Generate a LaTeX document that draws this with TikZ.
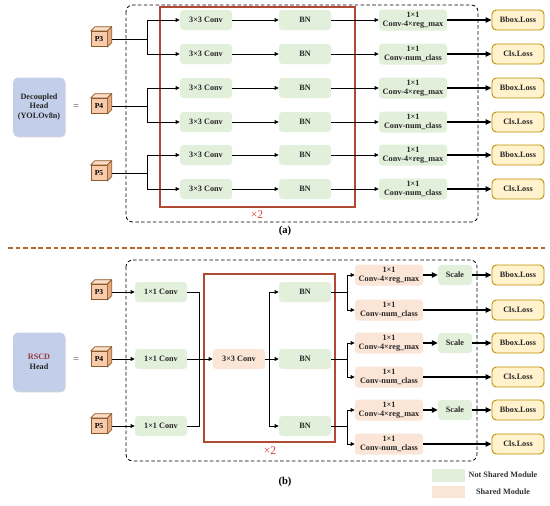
\documentclass[tikz,border=0pt]{standalone}
\usepackage{fontspec}
\setmainfont{Liberation Serif}
\usetikzlibrary{arrows.meta,shadows}

\definecolor{convgreen}{HTML}{E2EFDA}
\definecolor{sharedorange}{HTML}{FBE5D6}
\definecolor{lossfill}{HTML}{FFF2CC}
\definecolor{lossline}{HTML}{BF9000}
\definecolor{headblue}{HTML}{C3CFEA}
\definecolor{redframe}{HTML}{B04A35}
\definecolor{timesred}{HTML}{D9453C}
\definecolor{cubefill}{HTML}{F8CBAD}
\definecolor{cubetop}{HTML}{FBDCC6}
\definecolor{cubeside}{HTML}{E9A97E}
\definecolor{cubeline}{HTML}{8C5A2B}
\definecolor{sepline}{HTML}{B5652E}
\definecolor{rscdred}{HTML}{9B3A3A}

\tikzset{
    module/.style={rounded corners=1mm, minimum width=15.6mm, minimum height=6mm, inner sep=1pt,
        font=\fontsize{7}{7.5}\selectfont\bfseries, align=center, text=black!85},
    notshared/.style={module, fill=convgreen},
    shared/.style={module, fill=sharedorange},
    wide/.style={minimum width=20.4mm, minimum height=6.3mm},
    loss/.style={module, fill=lossfill, draw=lossline, line width=0.8pt, rounded corners=1.3mm},
    head/.style={fill=headblue, rounded corners=1.5mm, minimum width=15.6mm, minimum height=17.7mm,
        align=center, font=\fontsize{7}{8.5}\selectfont\bfseries, text=black!85,
        drop shadow={opacity=0.35, shadow xshift=0.6pt, shadow yshift=-0.8pt}},
    pfront/.style={draw=cubeline, fill=cubefill, line width=0.6pt, minimum width=4.8mm, minimum height=4.6mm,
        inner sep=0pt, font=\fontsize{6.5}{7}\selectfont\bfseries},
    arr/.style={-{Triangle[length=3.5pt,width=3.2pt]}, line width=0.6pt},
    thickarr/.style={-{Triangle[length=5pt,width=4.5pt]}, line width=1.5pt},
    outer/.style={dashed, dash pattern=on 3pt off 2pt, rounded corners=2mm, line width=0.7pt},
    redbox/.style={draw=redframe, line width=0.9pt},
    timestwo/.style={text=timesred, font=\fontsize{10}{10}\selectfont},
    caption/.style={font=\fontsize{9}{9}\selectfont\bfseries},
    legtext/.style={font=\fontsize{7}{7}\selectfont\bfseries, text=black!80}
}

% P3 / P4 / P5 feature cube
\newcommand{\pcube}[4]{%
    \node[pfront] (#1) at (#2,#3) {#4};
    \draw[cubeline, fill=cubetop, line width=0.6pt, line join=round] (#1.north west) -- ++(1.3mm,1.3mm)
        -- ([shift={(1.3mm,1.3mm)}]#1.north east) -- (#1.north east) -- cycle;
    \draw[cubeline, fill=cubeside, line width=0.6pt, line join=round] (#1.north east)
        -- ([shift={(1.3mm,1.3mm)}]#1.north east) -- ([shift={(1.3mm,1.3mm)}]#1.south east) -- (#1.south east) -- cycle;
}

\begin{document}
\begin{tikzpicture}[x=0.3mm, y=-0.3mm]
    \fill[white] (0,0) rectangle (550,505);
    \useasboundingbox (0,0) rectangle (550,505);

    % (a) Decoupled head
    \draw[outer] (126,5) rectangle (478,222);
    \draw[redbox] (160,7) rectangle (355,207);
    \node[timestwo] (xa) at (257,215) {×2};

    \node[head] (heada) at (39,107) {Decoupled\\Head\\(YOLOv8n)};
    \node[font=\fontsize{9}{9}\selectfont, text=black!70] (eqa) at (76,107) {=};
    \pcube{p3a}{99}{39}{P3}
    \pcube{p4a}{99}{106}{P4}
    \pcube{p5a}{99}{173}{P5}

    \node[notshared] (ca1) at (206,20) {3×3 Conv};
    \node[notshared] (ca2) at (206,54) {3×3 Conv};
    \node[notshared] (ca3) at (206,88) {3×3 Conv};
    \node[notshared] (ca4) at (206,122) {3×3 Conv};
    \node[notshared] (ca5) at (206,155) {3×3 Conv};
    \node[notshared] (ca6) at (206,189) {3×3 Conv};

    \node[notshared] (ba1) at (305,20) {BN};
    \node[notshared] (ba2) at (305,54) {BN};
    \node[notshared] (ba3) at (305,88) {BN};
    \node[notshared] (ba4) at (305,122) {BN};
    \node[notshared] (ba5) at (305,155) {BN};
    \node[notshared] (ba6) at (305,189) {BN};

    \node[notshared, wide] (da1) at (413,20) {1×1\\Conv-4×reg\_max};
    \node[notshared, wide] (da2) at (413,54) {1×1\\Conv-num\_class};
    \node[notshared, wide] (da3) at (413,88) {1×1\\Conv-4×reg\_max};
    \node[notshared, wide] (da4) at (413,122) {1×1\\Conv-num\_class};
    \node[notshared, wide] (da5) at (413,155) {1×1\\Conv-4×reg\_max};
    \node[notshared, wide] (da6) at (413,189) {1×1\\Conv-num\_class};

    \node[loss] (la1) at (518,20) {Bbox.Loss};
    \node[loss] (la2) at (518,54) {Cls.Loss};
    \node[loss] (la3) at (518,88) {Bbox.Loss};
    \node[loss] (la4) at (518,122) {Cls.Loss};
    \node[loss] (la5) at (518,155) {Bbox.Loss};
    \node[loss] (la6) at (518,189) {Cls.Loss};

    \coordinate (ja1) at (147,39);
    \coordinate (ja2) at (147,106);
    \coordinate (ja3) at (147,173);
    \draw[line width=0.6pt] ([xshift=1.3mm]p3a.east) -- (ja1);
    \draw[line width=0.6pt] ([xshift=1.3mm]p4a.east) -- (ja2);
    \draw[line width=0.6pt] ([xshift=1.3mm]p5a.east) -- (ja3);
    \draw[arr] (ja1) |- (ca1);
    \draw[arr] (ja1) |- (ca2);
    \draw[arr] (ja2) |- (ca3);
    \draw[arr] (ja2) |- (ca4);
    \draw[arr] (ja3) |- (ca5);
    \draw[arr] (ja3) |- (ca6);

    \draw[arr] (ca1) -- (ba1);
    \draw[arr] (ca2) -- (ba2);
    \draw[arr] (ca3) -- (ba3);
    \draw[arr] (ca4) -- (ba4);
    \draw[arr] (ca5) -- (ba5);
    \draw[arr] (ca6) -- (ba6);

    \draw[arr] (ba1) -- (da1);
    \draw[arr] (ba2) -- (da2);
    \draw[arr] (ba3) -- (da3);
    \draw[arr] (ba4) -- (da4);
    \draw[arr] (ba5) -- (da5);
    \draw[arr] (ba6) -- (da6);

    \draw[thickarr] (da1) -- (la1);
    \draw[thickarr] (da2) -- (la2);
    \draw[thickarr] (da3) -- (la3);
    \draw[thickarr] (da4) -- (la4);
    \draw[thickarr] (da5) -- (la5);
    \draw[thickarr] (da6) -- (la6);

    \node[caption] (capa) at (285,231) {(a)};

    % separator
    \draw[sepline, line width=1.1pt, dash pattern=on 4pt off 2.5pt] (8,248) -- (545,248);

    % (b) RSCD head
    \draw[outer] (126,260) rectangle (477,461);
    \draw[redbox] (204,274) rectangle (335,442);
    \node[timestwo] (xb) at (270,451) {×2};

    \node[head] (headb) at (39,362) {\textcolor{rscdred}{RSCD}\\Head};
    \node[font=\fontsize{9}{9}\selectfont, text=black!70] (eqb) at (76,360) {=};
    \pcube{p3b}{99}{292}{P3}
    \pcube{p4b}{99}{359}{P4}
    \pcube{p5b}{99}{426}{P5}

    \node[notshared] (cb1) at (161,292) {1×1 Conv};
    \node[notshared] (cb2) at (161,359) {1×1 Conv};
    \node[notshared] (cb3) at (161,426) {1×1 Conv};

    \node[shared] (sb) at (239,359) {3×3 Conv};

    \node[notshared] (bb1) at (305,292) {BN};
    \node[notshared] (bb2) at (305,359) {BN};
    \node[notshared] (bb3) at (305,426) {BN};

    \node[shared, wide] (db1) at (389,275) {1×1\\Conv-4×reg\_max};
    \node[shared, wide] (db2) at (389,310) {1×1\\Conv-num\_class};
    \node[shared, wide] (db3) at (389,343) {1×1\\Conv-4×reg\_max};
    \node[shared, wide] (db4) at (389,377) {1×1\\Conv-num\_class};
    \node[shared, wide] (db5) at (389,410) {1×1\\Conv-4×reg\_max};
    \node[shared, wide] (db6) at (389,444) {1×1\\Conv-num\_class};

    \node[notshared, minimum width=10.2mm] (gb1) at (455,275) {Scale};
    \node[notshared, minimum width=10.2mm] (gb2) at (455,343) {Scale};
    \node[notshared, minimum width=10.2mm] (gb3) at (455,410) {Scale};

    \node[loss] (lb1) at (518,275) {Bbox.Loss};
    \node[loss] (lb2) at (518,310) {Cls.Loss};
    \node[loss] (lb3) at (518,343) {Bbox.Loss};
    \node[loss] (lb4) at (518,377) {Cls.Loss};
    \node[loss] (lb5) at (518,410) {Bbox.Loss};
    \node[loss] (lb6) at (518,444) {Cls.Loss};

    \draw[arr] ([xshift=1.3mm]p3b.east) -- (cb1);
    \draw[arr] ([xshift=1.3mm]p4b.east) -- (cb2);
    \draw[arr] ([xshift=1.3mm]p5b.east) -- (cb3);

    \coordinate (mb) at (199,359);
    \draw[line width=0.6pt] (cb1) -| (mb);
    \draw[line width=0.6pt] (cb3) -| (mb);
    \draw[arr] (cb2) -- (sb);

    \coordinate (nb) at (269,359);
    \draw[arr] (sb) -- (bb2);
    \draw[arr] (nb) |- (bb1);
    \draw[arr] (nb) |- (bb3);

    \coordinate (kb1) at (347,292);
    \coordinate (kb2) at (347,359);
    \coordinate (kb3) at (347,426);
    \draw[line width=0.6pt] (bb1) -- (kb1);
    \draw[line width=0.6pt] (bb2) -- (kb2);
    \draw[line width=0.6pt] (bb3) -- (kb3);
    \draw[arr] (kb1) |- (db1);
    \draw[arr] (kb1) |- (db2);
    \draw[arr] (kb2) |- (db3);
    \draw[arr] (kb2) |- (db4);
    \draw[arr] (kb3) |- (db5);
    \draw[arr] (kb3) |- (db6);

    \draw[thickarr] (db1) -- (gb1);
    \draw[thickarr] (db3) -- (gb2);
    \draw[thickarr] (db5) -- (gb3);
    \draw[thickarr] (gb1) -- (lb1);
    \draw[thickarr] (gb2) -- (lb3);
    \draw[thickarr] (gb3) -- (lb5);
    \draw[thickarr] (db2) -- (lb2);
    \draw[thickarr] (db4) -- (lb4);
    \draw[thickarr] (db6) -- (lb6);

    \node[caption] (capb) at (285,482) {(b)};

    % legend
    \node[fill=convgreen, minimum width=9.9mm, minimum height=3.9mm, inner sep=0pt] (lg1) at (448,475) {};
    \node[legtext] (lt1) at (503,475) {Not Shared Module};
    \node[fill=sharedorange, minimum width=9.9mm, minimum height=3.6mm, inner sep=0pt] (lg2) at (448,492) {};
    \node[legtext] (lt2) at (503,492) {Shared Module};
\end{tikzpicture}
\end{document}
